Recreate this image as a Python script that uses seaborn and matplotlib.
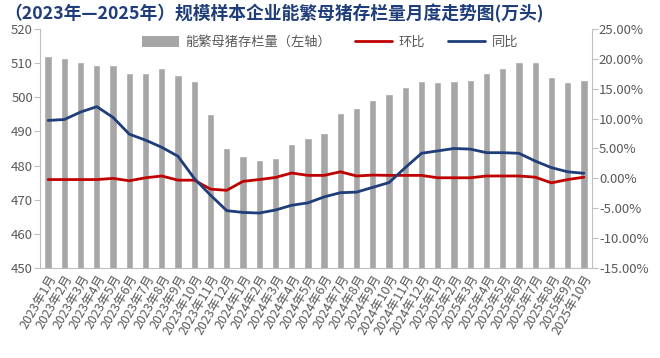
import numpy as np
import pandas as pd
import matplotlib
matplotlib.use('Agg')
import matplotlib.pyplot as plt
import seaborn as sns
from matplotlib.ticker import FuncFormatter, FixedLocator
from matplotlib.patches import Patch
from matplotlib.lines import Line2D

# 月份标签
months = [f'{y}年{m}月' for y in (2023, 2024, 2025) for m in range(1, 13)][:34]
# 能繁母猪存栏量（万头，左轴）
stock = [512.2, 511.5, 510.3, 509.5, 509.5, 507.0, 507.1, 508.6, 506.6, 504.9,
         495.2, 485.2, 482.8, 481.5, 482.2, 486.2, 488.0, 489.6,
         495.3, 496.8, 499.2, 500.9, 502.9, 504.7, 504.5, 504.9, 505.2, 507.1,
         508.6, 510.2, 510.2, 505.9, 504.5, 505.2]
# 环比 %
mom = [-0.2, -0.2, -0.2, -0.2, 0.0, -0.4, 0.1, 0.4, -0.3, -0.3,
       -1.8, -2.0, -0.5, -0.2, 0.15, 0.9, 0.5, 0.5,
       1.1, 0.4, 0.55, 0.5, 0.5, 0.5, 0.1, 0.1, 0.1, 0.4,
       0.4, 0.4, 0.2, -0.75, -0.2, 0.2]
# 同比 %
yoy = [9.7, 9.85, 11.1, 12.0, 10.2, 7.4, 6.4, 5.2, 3.7, 0.0,
       -2.8, -5.4, -5.7, -5.8, -5.3, -4.5, -4.1, -3.1,
       -2.4, -2.3, -1.5, -0.7, 1.8, 4.2, 4.6, 5.0, 4.9, 4.3,
       4.3, 4.2, 2.9, 1.8, 1.1, 0.85]

df = pd.DataFrame({'month': months, 'stock': stock, 'mom': mom, 'yoy': yoy})
df['pos'] = np.arange(len(df))

sns.set_style('white')
plt.rcParams['font.family'] = ['Noto Sans CJK SC', 'DejaVu Sans']
grey_txt = '#595959'
axis_c = '#BFBFBF'
bar_c = '#A6A6A6'
red = '#C00000'
blue = '#1F3D7A'

fig = plt.figure(figsize=(6.6, 3.58), dpi=100)
ax = fig.add_axes([0.0606, 0.2514, 0.8364, 0.6676])

sns.barplot(data=df, x='month', y='stock', color=bar_c, saturation=1,
            width=0.45, ax=ax)
ax.set_ylim(450, 520)
ax.set_yticks(range(450, 521, 10))
ax.set_xlim(-0.5, len(df) - 0.5)
ax.set_xlabel('')
ax.set_ylabel('')

ax2 = ax.twinx()
sns.lineplot(data=df, x='pos', y='mom', color=red, lw=2, ax=ax2)
sns.lineplot(data=df, x='pos', y='yoy', color=blue, lw=2, ax=ax2)
ax2.set_ylim(-15, 25)
ax2.set_yticks(range(-15, 26, 5))
ax2.yaxis.set_major_formatter(FuncFormatter(lambda v, p: f'{v:.2f}%'))
ax2.set_xlim(-0.5, len(df) - 0.5)
ax2.set_xlabel('')
ax2.set_ylabel('')

for a in (ax, ax2):
    for s in a.spines.values():
        s.set_color(axis_c)
        s.set_linewidth(0.8)
    a.spines['top'].set_visible(False)
ax.spines['right'].set_visible(False)
ax2.spines['left'].set_visible(False)
ax2.spines['bottom'].set_visible(False)

ax.tick_params(axis='y', length=4, width=0.8, color=axis_c, labelsize=9.5,
               labelcolor=grey_txt, pad=1)
ax2.tick_params(axis='y', length=4, width=0.8, color=axis_c, labelsize=9.5,
                labelcolor=grey_txt, pad=1)
ax.set_xticks(df['pos'])
ax.set_xticklabels(months, rotation=60, ha='right', va='top',
                   rotation_mode='anchor', fontsize=9, color=grey_txt)
ax.tick_params(axis='x', which='major', length=0, pad=3)
ax.xaxis.set_minor_locator(FixedLocator(np.arange(-0.5, len(df), 1)))
ax.tick_params(axis='x', which='minor', length=4, width=0.8, color=axis_c)
ax2.tick_params(axis='x', length=0, labelbottom=False)

fig.text(0.006, 0.962, '（2023年—2025年）规模样本企业能繁母猪存栏量月度走势图(万头)',
         fontsize=12.8, fontweight='bold', color=blue, va='center', ha='left')

handles = [Patch(facecolor=bar_c, edgecolor='none'),
           Line2D([], [], color=red, lw=2),
           Line2D([], [], color=blue, lw=2)]
labels = ['能繁母猪存栏量（左轴）', '环比', '同比']
fig.legend(handles, labels, loc='center', bbox_to_anchor=(0.5, 0.882), ncol=3,
           frameon=False, fontsize=9.5, labelcolor=grey_txt, handlelength=2.8,
           handleheight=0.9, columnspacing=1.8, handletextpad=0.5)

fig.savefig('out.png', dpi=100)
